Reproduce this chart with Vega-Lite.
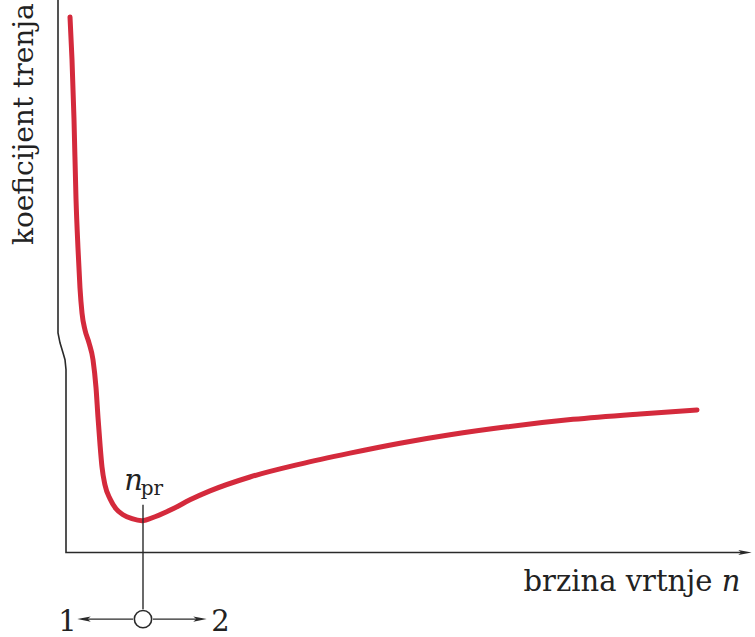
{
  "$schema": "https://vega.github.io/schema/vega-lite/v6.json",
  "width": 755,
  "height": 637,
  "padding": 0,
  "autosize": {"type": "fit", "contains": "padding"},
  "background": "white",
  "config": {"view": {"stroke": null}},
  "datasets": {
    "axes": [
      {"i": 0, "n": -0.8, "mu": 5.6},
      {"i": 1, "n": -0.8, "mu": 2.21},
      {"i": 2, "n": -0.6, "mu": 2.11},
      {"i": 3, "n": -0.3, "mu": 2.01},
      {"i": 4, "n": -0.1, "mu": 1.94},
      {"i": 5, "n": 0, "mu": 1.84},
      {"i": 6, "n": 0, "mu": 0},
      {"i": 7, "n": 67.8, "mu": 0}
    ],
    "curve": [
      {"n": 0.4, "mu": 5.39},
      {"n": 0.6, "mu": 4.96},
      {"n": 0.8, "mu": 4.36},
      {"n": 1.0, "mu": 3.56},
      {"n": 1.2, "mu": 3.06},
      {"n": 1.4, "mu": 2.66},
      {"n": 1.6, "mu": 2.41},
      {"n": 1.9, "mu": 2.24},
      {"n": 2.3, "mu": 2.11},
      {"n": 2.7, "mu": 1.94},
      {"n": 3.0, "mu": 1.66},
      {"n": 3.2, "mu": 1.36},
      {"n": 3.4, "mu": 1.09},
      {"n": 3.6, "mu": 0.86},
      {"n": 3.9, "mu": 0.68},
      {"n": 4.4, "mu": 0.54},
      {"n": 5.0, "mu": 0.44},
      {"n": 5.7, "mu": 0.38},
      {"n": 6.6, "mu": 0.34},
      {"n": 7.6, "mu": 0.32},
      {"n": 8.9, "mu": 0.36},
      {"n": 10.7, "mu": 0.44},
      {"n": 12.4, "mu": 0.53},
      {"n": 14.4, "mu": 0.62},
      {"n": 18.4, "mu": 0.76},
      {"n": 23.4, "mu": 0.89},
      {"n": 28.4, "mu": 1.0},
      {"n": 33.4, "mu": 1.1},
      {"n": 38.4, "mu": 1.185},
      {"n": 44.1, "mu": 1.265},
      {"n": 50.7, "mu": 1.34},
      {"n": 57.4, "mu": 1.395},
      {"n": 63.1, "mu": 1.435}
    ],
    "marker": [{"n": 7.7, "mu": 0.48, "mu2": -0.57}],
    "hArrows": [
      {"n": 6.7, "n2": 1.6, "mu": -0.67},
      {"n": 8.7, "n2": 13.6, "mu": -0.67}
    ],
    "circle": [{"n": 7.7, "mu": -0.67}],
    "headsRight": [
      {"n": 67.9, "mu": 0, "kind": "axis"},
      {"n": 13.4, "mu": -0.67, "kind": "dir2"}
    ],
    "headsLeft": [{"n": 1.8, "mu": -0.67}],
    "labelsNormal": [
      {"n": 55.2, "mu": -0.39, "t": "brzina vrtnje"},
      {"n": 0.15, "mu": -0.79, "t": "1"},
      {"n": 15.45, "mu": -0.79, "t": "2"}
    ],
    "labelsItalic": [
      {"n": 66.5, "mu": -0.39, "t": "n"},
      {"n": 6.75, "mu": 0.63, "t": "n"}
    ],
    "labelsSub": [{"n": 8.6, "mu": 0.58, "t": "pr"}],
    "labelsY": [{"n": -3.3, "mu": 4.31, "t": "koeficijent trenja"}]
  },
  "encoding": {
    "x": {"field": "n", "type": "quantitative", "scale": {"domain": [-6.6, 68.9], "nice": false, "zero": false}, "axis": null},
    "y": {"field": "mu", "type": "quantitative", "scale": {"domain": [-0.81, 5.56], "nice": false, "zero": false}, "axis": null}
  },
  "layer": [
    {
      "data": {"name": "axes"},
      "mark": {"type": "line", "color": "#2a2a2a", "strokeWidth": 1.6, "clip": true},
      "encoding": {"order": {"field": "i", "type": "quantitative"}}
    },
    {
      "data": {"name": "curve"},
      "mark": {"type": "line", "color": "#d42a3c", "strokeWidth": 5, "interpolate": "monotone", "strokeCap": "round"},
      "encoding": {}
    },
    {
      "data": {"name": "marker"},
      "mark": {"type": "rule", "color": "#2a2a2a", "strokeWidth": 1.4},
      "encoding": {"y2": {"field": "mu2"}}
    },
    {
      "data": {"name": "hArrows"},
      "mark": {"type": "rule", "color": "#2a2a2a", "strokeWidth": 1.4},
      "encoding": {"x2": {"field": "n2"}}
    },
    {
      "data": {"name": "headsRight"},
      "mark": {"type": "point", "shape": "M -1 -0.38 L 1 0 L -1 0.38 L -0.55 0 Z", "filled": true, "color": "#2a2a2a", "size": 180, "opacity": 1},
      "encoding": {}
    },
    {
      "data": {"name": "headsLeft"},
      "mark": {"type": "point", "shape": "M 1 -0.38 L -1 0 L 1 0.38 L 0.55 0 Z", "filled": true, "color": "#2a2a2a", "size": 180, "opacity": 1},
      "encoding": {}
    },
    {
      "data": {"name": "circle"},
      "mark": {"type": "point", "shape": "circle", "filled": false, "fill": "white", "fillOpacity": 1, "stroke": "#2a2a2a", "strokeWidth": 1.6, "size": 300, "opacity": 1},
      "encoding": {}
    },
    {
      "data": {"name": "labelsNormal"},
      "mark": {"type": "text", "font": "DejaVu Serif", "fontSize": 29, "align": "center", "baseline": "alphabetic", "color": "#222222"},
      "encoding": {"text": {"field": "t"}}
    },
    {
      "data": {"name": "labelsItalic"},
      "mark": {"type": "text", "font": "DejaVu Serif", "fontSize": 29, "fontStyle": "italic", "align": "center", "baseline": "alphabetic", "color": "#222222"},
      "encoding": {"text": {"field": "t"}}
    },
    {
      "data": {"name": "labelsSub"},
      "mark": {"type": "text", "font": "DejaVu Serif", "fontSize": 20, "align": "center", "baseline": "alphabetic", "color": "#222222"},
      "encoding": {"text": {"field": "t"}}
    },
    {
      "data": {"name": "labelsY"},
      "mark": {"type": "text", "font": "DejaVu Serif", "fontSize": 28, "angle": 270, "align": "center", "baseline": "alphabetic", "color": "#222222"},
      "encoding": {"text": {"field": "t"}}
    }
  ]
}
